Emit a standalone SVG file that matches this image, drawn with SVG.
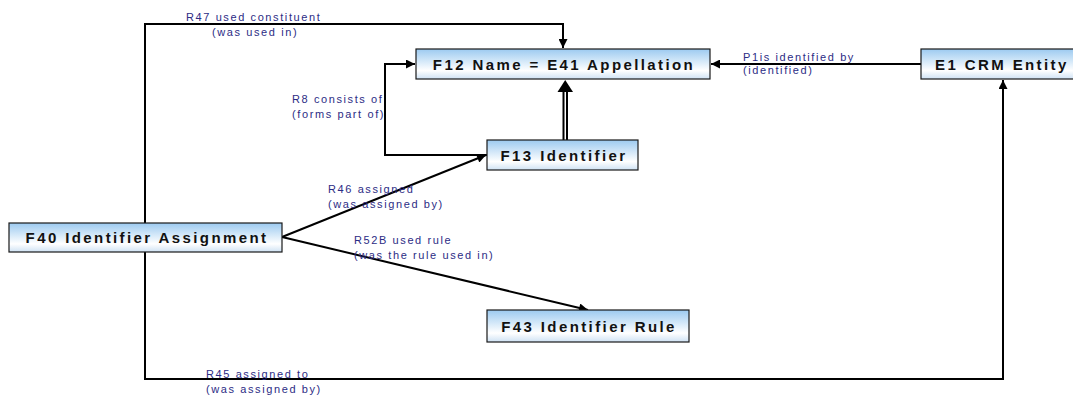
<svg xmlns="http://www.w3.org/2000/svg" width="1073" height="396" viewBox="0 0 1073 396">
<style>
.box{stroke:#1a1a1a;stroke-width:1.2;fill:url(#g)}
.nt{font-family:"Liberation Sans",Arial,sans-serif;font-weight:bold;font-size:15px;letter-spacing:2.4px;fill:#111;text-anchor:middle}
.lb{font-family:"Liberation Sans",Arial,sans-serif;font-size:11px;letter-spacing:1.6px;fill:#2c2c85}
.ln{stroke:#000;stroke-width:2;fill:none}
</style>
<defs>
<linearGradient id="g" x1="0" y1="0" x2="0" y2="1">
<stop offset="0" stop-color="#9ccaf0"/>
<stop offset="0.72" stop-color="#ffffff"/>
<stop offset="1" stop-color="#cfe2f4"/>
</linearGradient>
<marker id="a" viewBox="0 0 10 10" refX="10" refY="5" markerWidth="10" markerHeight="9" markerUnits="userSpaceOnUse" orient="auto">
<path d="M0,0 L10,5 L0,10 z" fill="#000"/>
</marker>
</defs>
<g id="connectors">
<polyline class="ln" points="145,223 145,24 563,24 563,48" marker-end="url(#a)"/>
<polyline class="ln" points="487,155 385,155 385,64 415,64" marker-end="url(#a)"/>
<line x1="563.5" y1="140" x2="563.5" y2="91" stroke="#000" stroke-width="2"/>
<line x1="567" y1="140" x2="567" y2="91" stroke="#000" stroke-width="2"/>
<path d="M565.2,80 L573,92 L557.5,92 z" fill="#000"/>
<line class="ln" x1="921" y1="64" x2="711" y2="64" marker-end="url(#a)"/>
<line class="ln" x1="282" y1="237" x2="486" y2="155" marker-end="url(#a)"/>
<line class="ln" x1="282" y1="237" x2="588" y2="310" marker-end="url(#a)"/>
<polyline class="ln" points="145,252 145,379 1003,379 1003,80" marker-end="url(#a)"/>
<text class="lb" x="186" y="21">R47 used constituent</text>
<text class="lb" x="212" y="36">(was used in)</text>
<text class="lb" x="292" y="103">R8 consists of</text>
<text class="lb" x="292" y="118">(forms part of)</text>
<text class="lb" x="743" y="61">P1is identified by</text>
<text class="lb" x="743" y="74">(identified)</text>
<text class="lb" x="328" y="193">R46 assigned</text>
<text class="lb" x="328" y="208">(was assigned by)</text>
<text class="lb" x="354" y="244">R52B used rule</text>
<text class="lb" x="354" y="259">(was the rule used in)</text>
<text class="lb" x="206" y="378">R45 assigned to</text>
<text class="lb" x="206" y="393">(was assigned by)</text>
</g>
<g id="F12">
<rect class="box" x="416" y="49" width="294" height="30"/>
<text class="nt" x="564" y="69.5">F12 Name = E41 Appellation</text>
</g>
<g id="E1">
<rect class="box" x="921" y="49" width="160" height="30"/>
<text class="nt" x="935" y="69.5" style="text-anchor:start">E1 CRM Entity</text>
</g>
<g id="F13">
<rect class="box" x="487" y="140" width="151" height="30"/>
<text class="nt" x="564" y="160.5">F13 Identifier</text>
</g>
<g id="F40">
<rect class="box" x="9" y="223" width="273" height="29"/>
<text class="nt" x="147" y="243">F40 Identifier Assignment</text>
</g>
<g id="F43">
<rect class="box" x="487" y="310" width="202" height="32"/>
<text class="nt" x="589" y="331.5">F43 Identifier Rule</text>
</g>
</svg>
